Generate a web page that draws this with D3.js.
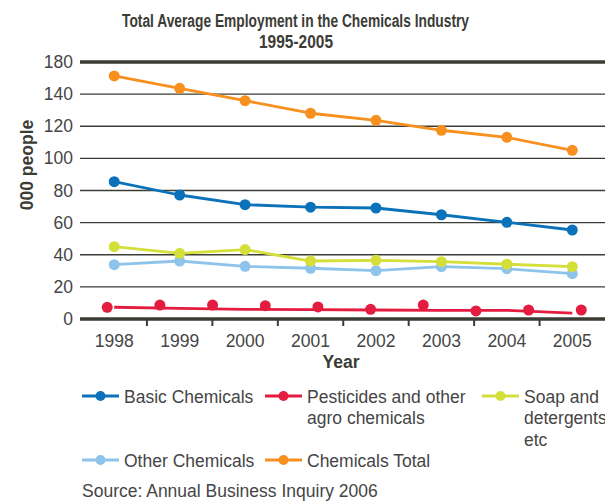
<!DOCTYPE html>
<html>
<head>
<meta charset="utf-8">
<script src="https://cdn.jsdelivr.net/npm/d3@7"></script>
<style>
  body { margin: 0; background: #fff; }
  svg { display: block; font-family: "Liberation Sans", Arial, Helvetica, sans-serif; }
</style>
</head>
<body>
<svg id="chart" width="605" height="502"></svg>
<script>
// Employment, thousands of people
const years = ["1998", "1999", "2000", "2001", "2002", "2003", "2004", "2005"];
const basicChemicals = [85.5, 77.2, 71.2, 69.6, 69.1, 64.9, 60.2, 55.4];
const pesticidesLine = [7.3, 6.6, 6.0, 5.8, 5.6, 5.4, 5.4, 3.6];
const pesticidesPoints = [7.3, 8.7, 8.7, 8.3, 7.5, 6.0, 8.7, 5.0, 5.6, 5.6];
const soapDetergents = [45.0, 40.9, 43.2, 36.1, 36.5, 35.7, 34.1, 32.6];
const otherChemicals = [33.8, 36.1, 32.8, 31.6, 30.1, 32.6, 31.3, 28.2];
const chemicalsTotal = [151.3, 143.6, 135.9, 128.1, 123.7, 117.5, 113.1, 105.0];

const yTicks = [0, 20, 40, 60, 80, 100, 120, 140, 160];
const yTickLabels = ["0", "20", "40", "60", "80", "100", "120", "140", "180"];

const colors = {
  basic: "#0b72ba",
  pest: "#e41c3f",
  soap: "#d4df3a",
  other: "#8ec4ec",
  total: "#f7901f"
};
const ink = "#3c3c36";
const textCol = "#454545";
const fs = 17.5;

const svg = d3.select("#chart");
const plot = { left: 80, right: 605, top: 62, bottom: 319 };

const x = d3.scaleBand().domain(years).range([81.5, 605]).padding(0);
const xMid = d => x(d) + x.bandwidth() / 2;
const y = d3.scaleLinear().domain([0, 160]).range([plot.bottom, plot.top]);

// Pesticide markers sit on their own evenly spaced positions
const xPest = d3.scalePoint()
  .domain(d3.range(pesticidesPoints.length))
  .range([xMid(years[0]) - 7, xMid(years[years.length - 1]) + 9]);

// Title
const title = svg.append("g").attr("fill", ink).attr("font-weight", "bold").attr("text-anchor", "middle");
title.append("text").attr("x", 295.5).attr("y", 26.5).attr("font-size", 18)
  .attr("textLength", 347).attr("lengthAdjust", "spacingAndGlyphs")
  .text("Total Average Employment in the Chemicals Industry");
title.append("text").attr("x", 296).attr("y", 48).attr("font-size", 18)
  .attr("textLength", 74).attr("lengthAdjust", "spacingAndGlyphs")
  .text("1995-2005");

// Horizontal gridlines and value labels
const yAxis = d3.axisLeft(y).tickValues(yTicks)
  .tickSize(0).tickPadding(7)
  .tickFormat((d, i) => yTickLabels[i]);
const gy = svg.append("g").attr("transform", `translate(${plot.left},0)`).call(yAxis);
gy.select(".domain").remove();
gy.selectAll("text").attr("font-size", fs).attr("fill", textCol)
  .attr("font-family", "'Liberation Sans', Arial, sans-serif");

svg.append("g").selectAll("line").data(yTicks).join("line")
  .attr("x1", plot.left).attr("x2", plot.right)
  .attr("y1", d => y(d)).attr("y2", d => y(d))
  .attr("stroke", ink)
  .attr("stroke-width", d => (d === 0 || d === 160) ? 3.5 : 1.3);

// X axis ticks and labels
const xAxis = d3.axisBottom(x).tickSize(0).tickPadding(16);
const gx = svg.append("g").attr("transform", `translate(0,${plot.bottom})`).call(xAxis);
gx.select(".domain").remove();
gx.selectAll("text").attr("font-size", fs).attr("fill", textCol)
  .attr("font-family", "'Liberation Sans', Arial, sans-serif");

svg.append("g").selectAll("line").data(years.slice(1)).join("line")
  .attr("x1", d => x(d)).attr("x2", d => x(d))
  .attr("y1", plot.bottom).attr("y2", plot.bottom + 7)
  .attr("stroke", ink).attr("stroke-width", 2);

svg.append("text").attr("x", 341).attr("y", 368).attr("text-anchor", "middle")
  .attr("font-size", fs).attr("font-weight", "bold").attr("fill", ink).text("Year");

svg.append("text")
  .attr("transform", "translate(33,165) rotate(-90)")
  .attr("text-anchor", "middle").attr("font-size", 17.5).attr("font-weight", "bold")
  .attr("fill", ink).text("000 people");

// Series
const line = d3.line().x((d, i) => xMid(years[i])).y(d => y(d));
const series = [
  { key: "pest", values: pesticidesLine },
  { key: "other", values: otherChemicals },
  { key: "soap", values: soapDetergents },
  { key: "basic", values: basicChemicals },
  { key: "total", values: chemicalsTotal }
];

series.forEach(s => {
  const g = svg.append("g");
  g.append("path").datum(s.values).attr("d", line)
    .attr("fill", "none").attr("stroke", colors[s.key]).attr("stroke-width", 2.8)
    .attr("stroke-linejoin", "round");
  if (s.key === "pest") {
    g.selectAll("circle").data(pesticidesPoints).join("circle")
      .attr("cx", (d, i) => xPest(i)).attr("cy", d => y(d)).attr("r", 5.5)
      .attr("fill", colors.pest);
  } else {
    g.selectAll("circle").data(s.values).join("circle")
      .attr("cx", (d, i) => xMid(years[i])).attr("cy", d => y(d)).attr("r", 5.5)
      .attr("fill", colors[s.key]);
  }
});

// Legend
const legendItems = [
  { key: "basic", x: 82, y: 396, lines: ["Basic Chemicals"] },
  { key: "pest", x: 265, y: 396, lines: ["Pesticides and other", "agro chemicals"] },
  { key: "soap", x: 482, y: 396, lines: ["Soap and", "detergents", "etc"] },
  { key: "other", x: 82, y: 460, lines: ["Other Chemicals"] },
  { key: "total", x: 265, y: 460, lines: ["Chemicals Total"] }
];
const lg = svg.append("g");
legendItems.forEach(it => {
  const g = lg.append("g").attr("transform", `translate(${it.x},${it.y})`);
  g.append("line").attr("x1", 0).attr("x2", 37).attr("y1", 0).attr("y2", 0)
    .attr("stroke", colors[it.key]).attr("stroke-width", 2.8);
  g.append("circle").attr("cx", 18.5).attr("cy", 0).attr("r", 5).attr("fill", colors[it.key]);
  const t = g.append("text").attr("x", 42).attr("y", 6.5).attr("font-size", fs).attr("fill", textCol);
  it.lines.forEach((ln, i) => {
    t.append("tspan").attr("x", 42).attr("dy", i === 0 ? 0 : 21.5).text(ln);
  });
});

svg.append("text").attr("x", 82).attr("y", 497).attr("font-size", fs).attr("fill", textCol)
  .text("Source: Annual Business Inquiry 2006");
</script>
</body>
</html>
